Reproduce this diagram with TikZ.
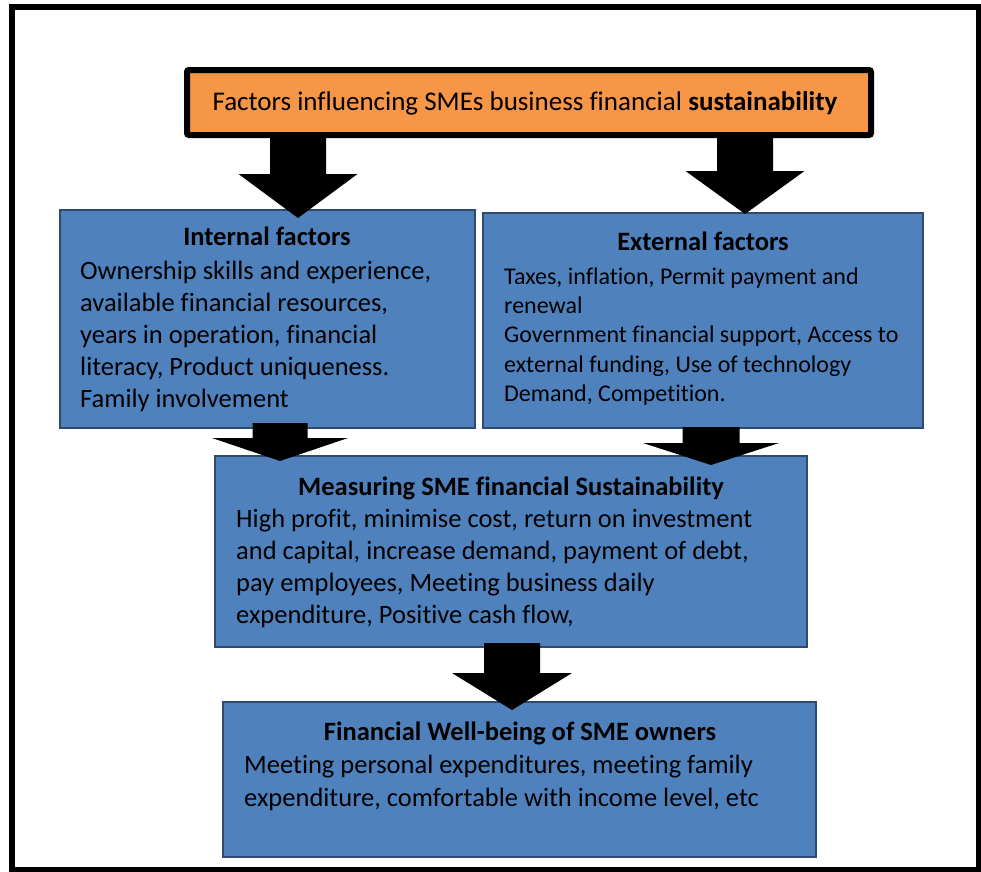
\documentclass[tikz,border=0pt]{standalone}
\usepackage{fontspec}
\setmainfont{Carlito}[RawFeature={-liga;-clig;-calt;-dlig}]
\definecolor{boxblue}{HTML}{4F81BD}
\definecolor{boxline}{HTML}{2E4A6E}
\definecolor{orangefill}{HTML}{F79646}
\newcommand{\myblockarrow}[7]{% name, cx, top, headY, tip, shaftHalf, headHalf
  \fill[black] (#2-#6,#3) -- (#2+#6,#3) -- (#2+#6,#4) -- (#2+#7,#4) -- (#2,#5)
    coordinate (#1) -- (#2-#7,#4) -- (#2-#6,#4) -- cycle;}
\begin{document}
\begin{tikzpicture}[x=1pt,y=-1pt,
  bluebox/.style={draw=boxline, line width=1.2pt, fill=boxblue, rectangle, inner sep=0pt},
  titlebox/.style={draw=black, line width=6pt, fill=orangefill, rectangle, rounded corners=2pt, inner sep=0pt},
  boxtitle/.style={anchor=base, inner sep=0pt, font=\fontsize{26.5}{32}\selectfont\bfseries},
  bodytext/.style={anchor=north west, align=left, inner sep=0pt, font=\fontsize{26.5}{32}\selectfont}]
\useasboundingbox (0,0) rectangle (981,871);
% outer frame
\draw[line width=6pt] (12,7) rectangle (979,869.5);
% boxes
\node[bluebox, minimum width=415pt, minimum height=218pt] (int) at (267.5,319) {};
\node[bluebox, minimum width=440pt, minimum height=215pt] (ext) at (703,320.5) {};
\node[bluebox, minimum width=592pt, minimum height=191pt] (meas) at (511,551.5) {};
\node[bluebox, minimum width=593pt, minimum height=155pt] (well) at (519.5,779.5) {};
% block arrows
\myblockarrow{a1}{298}{135}{174}{218}{28}{59.5}
\myblockarrow{a2}{745}{135}{171}{214}{28}{59.5}
\myblockarrow{a3}{280}{423}{438}{461}{27.5}{68}
\myblockarrow{a4}{711}{427}{443}{465}{28.5}{68}
\myblockarrow{a5}{512}{643}{673}{710}{28}{60}
% top box
\node[titlebox, minimum width=684pt, minimum height=65pt] (top) at (529,102.5) {};
\node[anchor=base, inner sep=0pt, font=\fontsize{27}{32}\selectfont] (toptxt) at (525,110)
  {Factors influencing SMEs business financial \textbf{sustainability}};
% texts
\node[boxtitle] (intt) at (267,245) {Internal factors};
\node[bodytext] (intb) at (80,256.6) {\strut Ownership skills and experience,\\
available financial resources,\\ years in operation, financial\\
literacy, Product uniqueness.\\ Family involvement};
\node[boxtitle] (extt) at (703,250) {External factors};
\node[bodytext, font=\fontsize{24}{29.3}\selectfont] (extb) at (504,263.5) {\strut Taxes, inflation, Permit payment and\\
renewal\\ Government financial support, Access to\\
external funding, Use of technology\\ Demand, Competition.};
\node[boxtitle] (meast) at (511,495) {Measuring SME financial Sustainability};
\node[bodytext] (measb) at (236,504.6) {\strut High profit, minimise cost, return on investment\\
and capital, increase demand, payment of debt,\\
pay employees, Meeting business daily\\
expenditure, Positive cash flow,};
\node[boxtitle] (wellt) at (520,740) {Financial Well-being of SME owners};
\node[bodytext, font=\fontsize{26.5}{33}\selectfont] (wellb) at (244,749.9) {\strut Meeting personal expenditures, meeting family\\
expenditure, comfortable with income level, etc};
\end{tikzpicture}
\end{document}
